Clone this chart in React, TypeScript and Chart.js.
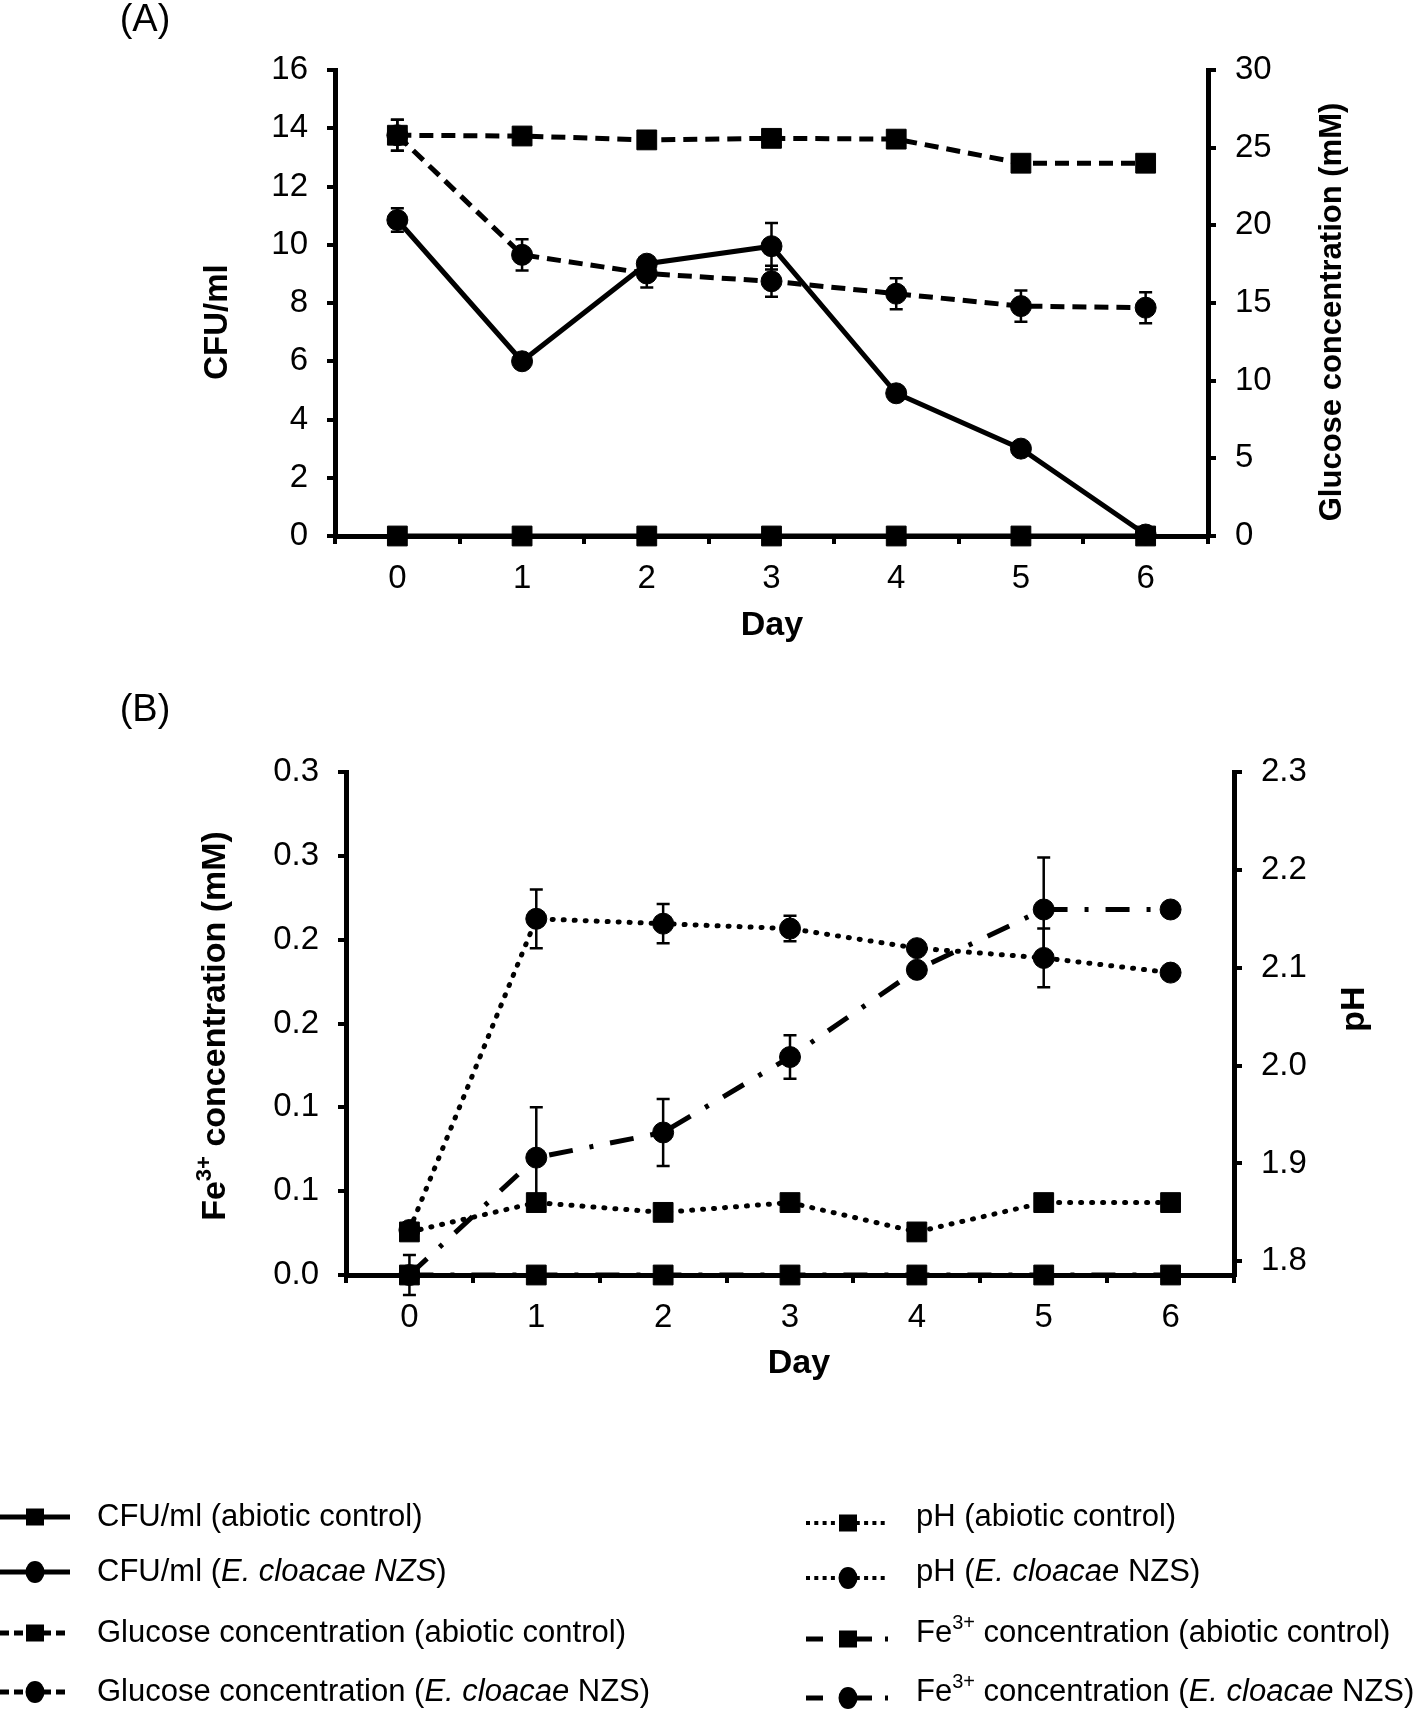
import React, { useEffect, useRef } from 'react';
import { Chart, registerables } from 'chart.js';

Chart.register(...registerables);

const FONT = "'Liberation Sans', Arial, Helvetica, sans-serif";

// ---------------- data ----------------
const days = ['0', '1', '2', '3', '4', '5', '6'];

// Panel A (left axis CFU/ml, right axis glucose mM)
const cfuAbiotic = [0, 0, 0, 0, 0, 0, 0];
const cfuNZS = [10.85, 6.0, 9.35, 9.95, 4.9, 3.0, 0.05];
const cfuNZSErr = [0.4, 0.2, 0.2, 0.8, 0.15, 0.15, 0.05];
const glucoseAbiotic = [25.8, 25.75, 25.5, 25.6, 25.55, 24.0, 24.0];
const glucoseAbioticErr = [1.0, 0.3, 0.3, 0.3, 0.3, 0.3, 0.3];
const glucoseNZS = [25.8, 18.1, 16.9, 16.4, 15.6, 14.8, 14.7];
const glucoseNZSErr = [1.0, 1.0, 0.9, 1.0, 1.0, 1.0, 1.0];

// Panel B (left axis Fe3+ mM, right axis pH)
const phAbiotic = [1.83, 1.86, 1.85, 1.86, 1.83, 1.86, 1.86];
const phNZS = [1.832, 2.15, 2.145, 2.14, 2.12, 2.11, 2.095];
const phNZSErr = [0, 0.03, 0.02, 0.013, 0.004, 0.03, 0];
const feAbiotic = [0, 0, 0, 0, 0, 0, 0];
const feNZS = [0.0, 0.07, 0.085, 0.13, 0.182, 0.218, 0.218];
const feNZSErr = [0.012, 0.03, 0.02, 0.013, 0.004, 0.031, 0];

const feTickValues = [0, 0.05, 0.1, 0.15, 0.2, 0.25, 0.3];
const feTickLabels = ['0.0', '0.1', '0.1', '0.2', '0.2', '0.3', '0.3'];
const phTickValues = [1.8, 1.9, 2.0, 2.1, 2.2, 2.3];

// ---------------- styles ----------------
const SOLID: number[] = [];
const DASHED = [14, 8];
const DOTTED = [1, 10];
const DASHDOT = [24, 17, 4, 17];

type Part = { t: string; b?: boolean; i?: boolean; sup?: boolean };
type TextItem = { x: number; y: number; rot?: number; size: number; parts: Part[]; align?: 'left' | 'center' };

function drawRich(ctx: CanvasRenderingContext2D, item: TextItem) {
  ctx.save();
  ctx.translate(item.x, item.y);
  if (item.rot) ctx.rotate(item.rot);
  const fontFor = (p: Part) =>
    `${p.i ? 'italic ' : ''}${p.b ? 'bold ' : ''}${p.sup ? Math.round(item.size * 0.66) : item.size}px ${FONT}`;
  let total = 0;
  const widths = item.parts.map((p) => {
    ctx.font = fontFor(p);
    const w = ctx.measureText(p.t).width;
    total += w;
    return w;
  });
  let x = item.align === 'left' ? 0 : -total / 2;
  ctx.textBaseline = 'middle';
  ctx.textAlign = 'left';
  ctx.fillStyle = '#000';
  item.parts.forEach((p, k) => {
    ctx.font = fontFor(p);
    ctx.fillText(p.t, x, p.sup ? -item.size * 0.32 : 0);
    x += widths[k];
  });
  ctx.restore();
}

type LegendEntry = {
  x0: number; x1: number; y: number; mx: number;
  dash: number[]; cap: CanvasLineCap; lw: number;
  marker: 'rect' | 'circle';
  tx: number; ty: number; parts: Part[];
};

function drawLegend(ctx: CanvasRenderingContext2D, e: LegendEntry) {
  ctx.save();
  ctx.strokeStyle = '#000';
  ctx.fillStyle = '#000';
  ctx.lineWidth = e.lw;
  ctx.lineCap = e.cap;
  ctx.setLineDash(e.dash);
  ctx.beginPath();
  ctx.moveTo(e.x0, e.y);
  ctx.lineTo(e.x1, e.y);
  ctx.stroke();
  ctx.setLineDash([]);
  if (e.marker === 'rect') {
    ctx.fillRect(e.mx - 9, e.y - 8.5, 18, 17);
  } else {
    ctx.beginPath();
    ctx.ellipse(e.mx, e.y, 9.5, 11, 0, 0, Math.PI * 2);
    ctx.fill();
  }
  ctx.restore();
  drawRich(ctx, { x: e.tx, y: e.ty, size: 31, parts: e.parts, align: 'left' });
}

function makeAnnotator(texts: TextItem[], legend: LegendEntry[]) {
  return {
    id: 'annotator',
    afterDraw(chart: any) {
      const ctx = chart.ctx as CanvasRenderingContext2D;
      texts.forEach((t) => drawRich(ctx, t));
      legend.forEach((l) => drawLegend(ctx, l));
    },
  };
}

const errorBarPlugin = {
  id: 'errorBars',
  beforeDatasetsDraw(chart: any) {
    const ctx = chart.ctx as CanvasRenderingContext2D;
    chart.data.datasets.forEach((ds: any, i: number) => {
      const errs: number[] | undefined = ds.errorBars;
      if (!errs) return;
      const meta = chart.getDatasetMeta(i);
      const yScale = chart.scales[meta.yAxisID];
      meta.data.forEach((pt: any, j: number) => {
        const e = errs[j];
        if (!e) return;
        const v = ds.data[j];
        const top = yScale.getPixelForValue(v + e);
        const bot = yScale.getPixelForValue(v - e);
        const x = pt.x;
        ctx.save();
        ctx.strokeStyle = '#000';
        ctx.lineWidth = 2.5;
        ctx.setLineDash([]);
        ctx.beginPath();
        ctx.moveTo(x, top);
        ctx.lineTo(x, bot);
        ctx.moveTo(x - 6.5, top);
        ctx.lineTo(x + 6.5, top);
        ctx.moveTo(x - 6.5, bot);
        ctx.lineTo(x + 6.5, bot);
        ctx.stroke();
        ctx.restore();
      });
    });
  },
};

function lineDs(label: string, data: number[], axis: string, dash: number[], marker: 'rect' | 'circle', errs?: number[], cap: CanvasLineCap = 'butt', width = 5) {
  return {
    label,
    data,
    yAxisID: axis,
    borderColor: '#000',
    backgroundColor: '#000',
    borderWidth: width,
    borderDash: dash,
    borderCapStyle: cap,
    tension: 0,
    pointStyle: marker,
    pointRadius: marker === 'rect' ? 14 : 10.5,
    pointBackgroundColor: '#000',
    pointBorderColor: '#000',
    pointBorderWidth: 1,
    clip: false,
    errorBars: errs,
  } as any;
}

const tickFont = { size: 33, family: FONT };

function xAxis(height: number) {
  return {
    type: 'category',
    offset: true,
    border: { display: true, color: '#000', width: 5 },
    grid: { offset: true, drawOnChartArea: false, drawTicks: true, tickLength: 8, color: '#000', lineWidth: 4 },
    ticks: { color: '#000', font: tickFont, padding: 15, maxRotation: 0, autoSkip: false },
    afterFit: (s: any) => { s.height = height; },
  };
}

function yAxis(position: 'left' | 'right', width: number, extra: any) {
  return {
    position,
    border: { display: true, color: '#000', width: 5 },
    grid: { drawOnChartArea: false, drawTicks: true, tickLength: 8, color: '#000', lineWidth: 4 },
    ...extra,
    ticks: { color: '#000', font: tickFont, padding: 19, ...(extra.ticks || {}) },
    afterFit: (s: any) => { s.width = width; },
  };
}

const ROT = -Math.PI / 2;

function configA() {
  const texts: TextItem[] = [
    { x: 145, y: 21, size: 38, parts: [{ t: '(A)' }] },
    { x: 772, y: 626, size: 34, parts: [{ t: 'Day', b: true }] },
    { x: 218, y: 322, rot: ROT, size: 33, parts: [{ t: 'CFU/ml', b: true }] },
    { x: 1332, y: 312, rot: ROT, size: 31, parts: [{ t: 'Glucose concentration (mM)', b: true }] },
  ];
  return {
    type: 'line',
    data: {
      labels: days,
      datasets: [
        lineDs('CFU/ml (abiotic control)', cfuAbiotic, 'y', SOLID, 'rect'),
        lineDs('Glucose concentration (abiotic control)', glucoseAbiotic, 'y1', DASHED, 'rect', glucoseAbioticErr),
        lineDs('CFU/ml (E. cloacae NZS)', cfuNZS, 'y', SOLID, 'circle', cfuNZSErr),
        lineDs('Glucose concentration (E. cloacae NZS)', glucoseNZS, 'y1', DASHED, 'circle', glucoseNZSErr),
      ],
    },
    options: {
      responsive: false,
      animation: false,
      devicePixelRatio: 1,
      layout: { padding: { top: 70, left: 0, right: 0, bottom: 0 } },
      plugins: { legend: { display: false }, tooltip: { enabled: false } },
      scales: {
        x: xAxis(144),
        y: yAxis('left', 335, { min: 0, max: 16, ticks: { stepSize: 2 } }),
        y1: yAxis('right', 210, { min: 0, max: 30, ticks: { stepSize: 5 } }),
      },
    },
    plugins: [errorBarPlugin, makeAnnotator(texts, [])],
  } as any;
}

function configB() {
  const OFF = 680;
  const texts: TextItem[] = [
    { x: 145, y: 711 - OFF, size: 38, parts: [{ t: '(B)' }] },
    { x: 799, y: 1364 - OFF, size: 34, parts: [{ t: 'Day', b: true }] },
    {
      x: 216, y: 1026 - OFF, rot: ROT, size: 34,
      parts: [{ t: 'Fe', b: true }, { t: '3+', b: true, sup: true }, { t: ' concentration (mM)', b: true }],
    },
    { x: 1355, y: 1009 - OFF, rot: ROT, size: 34, parts: [{ t: 'pH', b: true }] },
  ];
  const rowY = [1517, 1572, 1633, 1692].map((v) => v - OFF);
  const L = { x0: 0, x1: 70, mx: 35, tx: 97 };
  const R = { x0: 806, x1: 888, mx: 848, tx: 916 };
  const legend: LegendEntry[] = [
    { ...L, y: rowY[0], ty: rowY[0], dash: [], cap: 'butt', lw: 5, marker: 'rect', parts: [{ t: 'CFU/ml (abiotic control)' }] },
    { ...L, y: rowY[1], ty: rowY[1], dash: [], cap: 'butt', lw: 5, marker: 'circle', parts: [{ t: 'CFU/ml (' }, { t: 'E. cloacae NZS', i: true }, { t: ')' }] },
    { ...L, y: rowY[2], ty: rowY[2], dash: [9, 5], cap: 'butt', lw: 5, marker: 'rect', parts: [{ t: 'Glucose concentration (abiotic control)' }] },
    { ...L, y: rowY[3], ty: rowY[3], dash: [9, 5], cap: 'butt', lw: 5, marker: 'circle', parts: [{ t: 'Glucose concentration (' }, { t: 'E. cloacae', i: true }, { t: ' NZS)' }] },
    { ...R, y: rowY[0] + 6, ty: rowY[0], dash: [4, 4.3], cap: 'butt', lw: 4, marker: 'rect', parts: [{ t: 'pH (abiotic control)' }] },
    { ...R, y: rowY[1] + 6, ty: rowY[1], dash: [4, 4.3], cap: 'butt', lw: 4, marker: 'circle', parts: [{ t: 'pH (' }, { t: 'E. cloacae', i: true }, { t: ' NZS)' }] },
    { ...R, y: rowY[2] + 6, ty: rowY[2], dash: [17, 16, 33, 13, 4, 100], cap: 'butt', lw: 5, marker: 'rect', parts: [{ t: 'Fe' }, { t: '3+', sup: true }, { t: ' concentration (abiotic control)' }] },
    { ...R, y: rowY[3] + 6, ty: rowY[3], dash: [17, 16, 33, 13, 4, 100], cap: 'butt', lw: 5, marker: 'circle', parts: [{ t: 'Fe' }, { t: '3+', sup: true }, { t: ' concentration (' }, { t: 'E. cloacae', i: true }, { t: ' NZS)' }] },
  ];
  return {
    type: 'line',
    data: {
      labels: days,
      datasets: [
        lineDs('pH (abiotic control)', phAbiotic, 'y1', DOTTED, 'rect', undefined, 'round', 5),
        lineDs('Fe3+ concentration (abiotic control)', feAbiotic, 'y', DASHDOT, 'rect'),
        lineDs('pH (E. cloacae NZS)', phNZS, 'y1', DOTTED, 'circle', phNZSErr, 'round', 5),
        lineDs('Fe3+ concentration (E. cloacae NZS)', feNZS, 'y', DASHDOT, 'circle', feNZSErr),
      ],
    },
    options: {
      responsive: false,
      animation: false,
      devicePixelRatio: 1,
      layout: { padding: { top: 92, left: 0, right: 0, bottom: 0 } },
      plugins: { legend: { display: false }, tooltip: { enabled: false } },
      scales: {
        x: xAxis(1029 - 595),
        y: yAxis('left', 346, {
          min: 0,
          max: 0.3,
          afterBuildTicks: (s: any) => { s.ticks = feTickValues.map((v) => ({ value: v })); },
          ticks: { callback: (_v: any, i: number) => feTickLabels[i] },
        }),
        y1: yAxis('right', 1418 - 1234, {
          min: 1.786,
          max: 2.3,
          afterBuildTicks: (s: any) => { s.ticks = phTickValues.map((v) => ({ value: v })); },
          ticks: { callback: (v: any) => Number(v).toFixed(1) },
        }),
      },
    },
    plugins: [errorBarPlugin, makeAnnotator(texts, legend)],
  } as any;
}

function ChartCanvas({ make, top, height }: { make: () => any; top: number; height: number }) {
  const ref = useRef<HTMLCanvasElement | null>(null);
  useEffect(() => {
    if (!ref.current) return;
    const c = new Chart(ref.current, make());
    return () => c.destroy();
  }, []);
  return (
    <canvas
      ref={ref}
      width={1418}
      height={height}
      style={{ position: 'absolute', left: 0, top, width: 1418, height, display: 'block' }}
    />
  );
}

export default function App() {
  return (
    <div style={{ position: 'absolute', left: 0, top: 0, width: 1418, height: 1709, background: '#fff', overflow: 'hidden' }}>
      <ChartCanvas make={configA} top={0} height={680} />
      <ChartCanvas make={configB} top={680} height={1029} />
    </div>
  );
}
